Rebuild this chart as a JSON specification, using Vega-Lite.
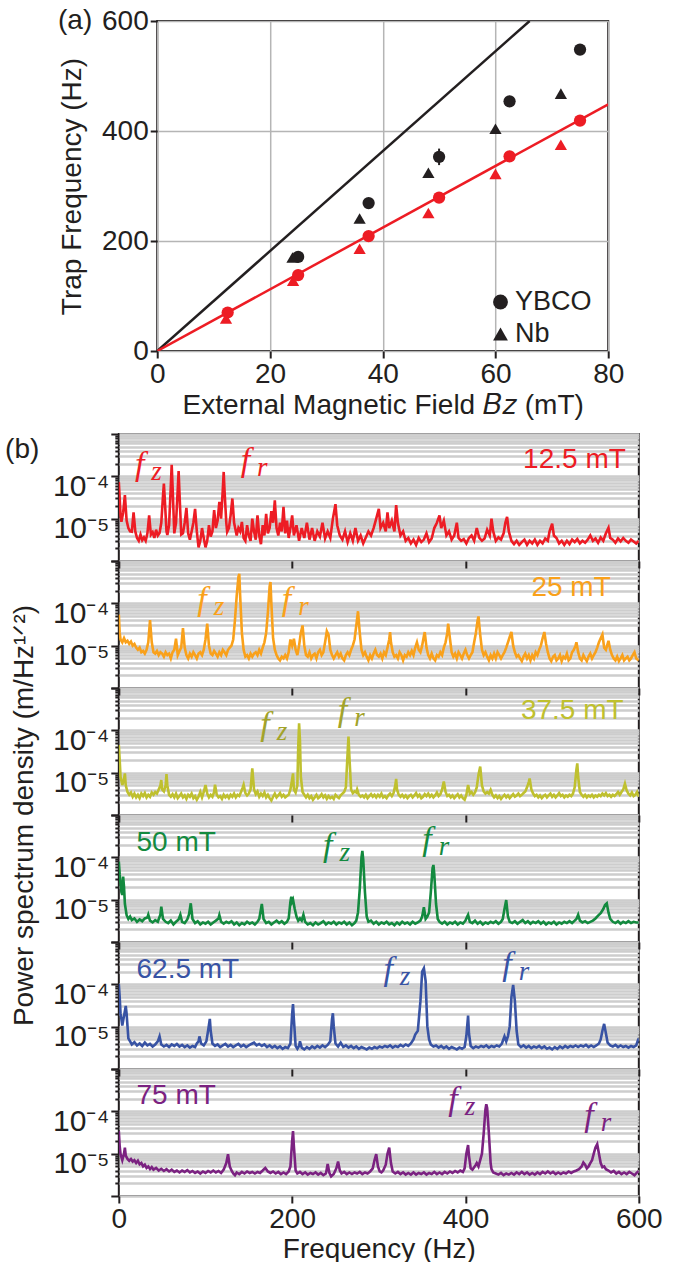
{
"$schema": "https://vega.github.io/schema/vega-lite/v6.json",
"padding": {"left": 3.5, "top": 6, "right": 0, "bottom": 0},
"config": {
 "font": "Liberation Sans",
 "view": {"stroke": "#231f20", "strokeWidth": 2},
 "axis": {"labelFontSize": 28, "titleFontSize": 28, "titleFontWeight": "normal", "labelColor": "#231f20", "titleColor": "#231f20", "domainColor": "#231f20", "domainWidth": 2, "tickColor": "#231f20", "tickWidth": 2, "labelFlush": false, "labelOverlap": false},
 "text": {"font": "Liberation Sans"}
},
"datasets": {
"s1": [{"f":0,"p":73},{"f":1,"p":30},{"f":2,"p":12},{"f":3,"p":8.4},{"f":5,"p":14},{"f":7,"p":36},{"f":9,"p":9},{"f":11,"p":6},{"f":13,"p":5},{"f":15,"p":4.9},{"f":17,"p":14},{"f":19,"p":5},{"f":21,"p":3.5},{"f":23,"p":3.0},{"f":25,"p":4.2},{"f":27,"p":3.1},{"f":29,"p":3.6},{"f":31,"p":3.0},{"f":33,"p":4.5},{"f":35,"p":12},{"f":37,"p":4.2},{"f":39,"p":4.8},{"f":41,"p":3.5},{"f":43,"p":5.5},{"f":45,"p":4.0},{"f":47,"p":4.6},{"f":49,"p":8},{"f":51,"p":35},{"f":52,"p":67},{"f":53,"p":30},{"f":55,"p":5},{"f":56,"p":4.1},{"f":58,"p":7},{"f":60,"p":60},{"f":61,"p":186},{"f":62,"p":60},{"f":64,"p":4.5},{"f":66,"p":8},{"f":68,"p":50},{"f":69,"p":134},{"f":70,"p":40},{"f":72,"p":4.2},{"f":74,"p":4.5},{"f":76,"p":8},{"f":78,"p":18},{"f":80,"p":4.5},{"f":82,"p":3.2},{"f":84,"p":5},{"f":86,"p":8},{"f":88,"p":17},{"f":90,"p":5},{"f":92,"p":2.1},{"f":94,"p":3},{"f":96,"p":6},{"f":98,"p":3.5},{"f":100,"p":2.1},{"f":102,"p":3},{"f":104,"p":7},{"f":106,"p":3.8},{"f":108,"p":5},{"f":110,"p":16},{"f":112,"p":6},{"f":114,"p":9},{"f":116,"p":25},{"f":118,"p":10},{"f":120,"p":50},{"f":121,"p":127},{"f":122,"p":45},{"f":124,"p":8},{"f":125,"p":4.9},{"f":127,"p":6},{"f":129,"p":12},{"f":131,"p":30},{"f":133,"p":8},{"f":136,"p":4},{"f":138,"p":6},{"f":140,"p":5},{"f":142,"p":8.4},{"f":144,"p":3.5},{"f":146,"p":3},{"f":148,"p":7},{"f":150,"p":4},{"f":152,"p":3},{"f":154,"p":10},{"f":156,"p":5},{"f":158,"p":3.2},{"f":160,"p":12},{"f":162,"p":4},{"f":164,"p":2.5},{"f":166,"p":7},{"f":168,"p":4},{"f":170,"p":13},{"f":172,"p":4.5},{"f":174,"p":6},{"f":176,"p":15},{"f":178,"p":8},{"f":180,"p":27},{"f":182,"p":6},{"f":184,"p":4},{"f":186,"p":8},{"f":188,"p":5},{"f":190,"p":19},{"f":192,"p":4.5},{"f":194,"p":9},{"f":196,"p":3.5},{"f":198,"p":6},{"f":200,"p":12},{"f":202,"p":4},{"f":205,"p":7},{"f":208,"p":3},{"f":211,"p":6},{"f":214,"p":3.5},{"f":217,"p":8},{"f":220,"p":3.2},{"f":223,"p":6},{"f":226,"p":3},{"f":229,"p":5},{"f":232,"p":3.8},{"f":235,"p":8},{"f":238,"p":3.4},{"f":241,"p":5},{"f":244,"p":3.5},{"f":247,"p":10},{"f":250,"p":22},{"f":252,"p":7},{"f":255,"p":4},{"f":258,"p":3.2},{"f":261,"p":5},{"f":264,"p":2.8},{"f":267,"p":4.5},{"f":270,"p":3},{"f":273,"p":6},{"f":276,"p":3},{"f":279,"p":4},{"f":282,"p":2.6},{"f":285,"p":3.6},{"f":288,"p":5},{"f":291,"p":4},{"f":294,"p":6},{"f":297,"p":10},{"f":300,"p":17},{"f":302,"p":6},{"f":305,"p":8},{"f":308,"p":5},{"f":310,"p":14},{"f":312,"p":6},{"f":315,"p":9},{"f":318,"p":5},{"f":320,"p":21},{"f":322,"p":8},{"f":325,"p":4},{"f":328,"p":5},{"f":331,"p":3},{"f":334,"p":3.5},{"f":337,"p":2.6},{"f":340,"p":3.2},{"f":343,"p":2.4},{"f":346,"p":3.5},{"f":349,"p":2.8},{"f":352,"p":3.2},{"f":355,"p":4.5},{"f":358,"p":2.8},{"f":361,"p":3.4},{"f":364,"p":6},{"f":367,"p":8},{"f":370,"p":12},{"f":372,"p":6},{"f":375,"p":9},{"f":378,"p":4},{"f":381,"p":5},{"f":384,"p":3.2},{"f":387,"p":4},{"f":390,"p":8},{"f":392,"p":3.5},{"f":395,"p":3},{"f":398,"p":3.3},{"f":401,"p":2.6},{"f":404,"p":3.5},{"f":407,"p":4},{"f":410,"p":3},{"f":413,"p":6},{"f":416,"p":3.5},{"f":419,"p":3},{"f":422,"p":3.4},{"f":425,"p":5.5},{"f":428,"p":4},{"f":430,"p":10},{"f":432,"p":5},{"f":435,"p":3},{"f":438,"p":3.6},{"f":441,"p":3.2},{"f":444,"p":4.5},{"f":446,"p":8},{"f":448,"p":11},{"f":450,"p":5},{"f":453,"p":3},{"f":456,"p":2.5},{"f":459,"p":3},{"f":462,"p":2.4},{"f":465,"p":2.8},{"f":468,"p":3.2},{"f":471,"p":2.4},{"f":474,"p":3},{"f":477,"p":2.6},{"f":480,"p":3.2},{"f":483,"p":2.4},{"f":486,"p":3},{"f":489,"p":2.6},{"f":492,"p":3.4},{"f":495,"p":3},{"f":497,"p":5},{"f":500,"p":7.6},{"f":502,"p":4},{"f":505,"p":3.5},{"f":508,"p":2.6},{"f":511,"p":3},{"f":514,"p":2.4},{"f":517,"p":3},{"f":520,"p":2.5},{"f":523,"p":3.2},{"f":526,"p":2.8},{"f":529,"p":3.3},{"f":532,"p":2.6},{"f":535,"p":3},{"f":538,"p":2.7},{"f":541,"p":3.2},{"f":544,"p":4},{"f":547,"p":3},{"f":550,"p":3.4},{"f":553,"p":2.7},{"f":556,"p":3.6},{"f":559,"p":3},{"f":562,"p":4.5},{"f":565,"p":6.1},{"f":567,"p":3.5},{"f":570,"p":3.2},{"f":573,"p":2.7},{"f":576,"p":3.4},{"f":579,"p":2.9},{"f":582,"p":3.5},{"f":585,"p":3},{"f":588,"p":2.7},{"f":591,"p":3.2},{"f":594,"p":2.9},{"f":597,"p":2.6},{"f":600,"p":3}],
"s2": [{"f":0,"p":54},{"f":1,"p":20},{"f":2,"p":14},{"f":4,"p":12},{"f":6,"p":15},{"f":8,"p":12},{"f":10,"p":13},{"f":12,"p":11},{"f":14,"p":12.5},{"f":16,"p":10},{"f":18,"p":11},{"f":20,"p":9},{"f":22,"p":8},{"f":24,"p":9},{"f":26,"p":7},{"f":28,"p":7.5},{"f":30,"p":6.5},{"f":32,"p":8},{"f":34,"p":12},{"f":36,"p":40},{"f":38,"p":12},{"f":40,"p":7},{"f":42,"p":6.5},{"f":44,"p":7.5},{"f":46,"p":6},{"f":48,"p":7},{"f":50,"p":6.5},{"f":52,"p":5.5},{"f":54,"p":7},{"f":56,"p":6},{"f":58,"p":6.5},{"f":60,"p":5},{"f":62,"p":7},{"f":64,"p":8},{"f":66,"p":14.6},{"f":68,"p":6},{"f":70,"p":7.5},{"f":72,"p":9},{"f":74,"p":26},{"f":76,"p":9},{"f":78,"p":6},{"f":80,"p":5},{"f":82,"p":6.5},{"f":84,"p":5.5},{"f":86,"p":7},{"f":88,"p":6},{"f":90,"p":5},{"f":92,"p":6.5},{"f":94,"p":7},{"f":96,"p":6},{"f":98,"p":8},{"f":100,"p":14},{"f":102,"p":33},{"f":104,"p":10},{"f":106,"p":6.5},{"f":108,"p":6},{"f":110,"p":7.5},{"f":112,"p":6.5},{"f":114,"p":5.5},{"f":116,"p":7},{"f":118,"p":6},{"f":120,"p":8},{"f":122,"p":7},{"f":124,"p":6},{"f":126,"p":8},{"f":128,"p":9},{"f":130,"p":10},{"f":132,"p":14},{"f":134,"p":40},{"f":136,"p":150},{"f":138,"p":420},{"f":139,"p":500},{"f":140,"p":150},{"f":142,"p":20},{"f":144,"p":8},{"f":146,"p":5.5},{"f":148,"p":6},{"f":150,"p":5},{"f":152,"p":6.5},{"f":154,"p":5.5},{"f":156,"p":6.5},{"f":158,"p":7},{"f":160,"p":6},{"f":162,"p":8},{"f":164,"p":6.5},{"f":166,"p":9},{"f":168,"p":12},{"f":170,"p":20},{"f":172,"p":60},{"f":174,"p":250},{"f":175,"p":320},{"f":176,"p":100},{"f":178,"p":15},{"f":180,"p":8},{"f":182,"p":6},{"f":184,"p":5},{"f":186,"p":4.5},{"f":188,"p":5.5},{"f":190,"p":5},{"f":192,"p":6},{"f":194,"p":5},{"f":196,"p":7},{"f":198,"p":14},{"f":200,"p":10},{"f":202,"p":14.6},{"f":204,"p":8},{"f":206,"p":6},{"f":208,"p":10},{"f":210,"p":20},{"f":212,"p":30},{"f":214,"p":10},{"f":216,"p":6},{"f":218,"p":5.5},{"f":220,"p":7},{"f":222,"p":5},{"f":224,"p":6},{"f":226,"p":6.5},{"f":228,"p":5},{"f":230,"p":7},{"f":232,"p":8},{"f":234,"p":6},{"f":236,"p":7},{"f":238,"p":12},{"f":240,"p":22},{"f":242,"p":18},{"f":244,"p":8},{"f":246,"p":6},{"f":248,"p":5},{"f":250,"p":6},{"f":252,"p":7},{"f":254,"p":5.5},{"f":256,"p":6.5},{"f":258,"p":5},{"f":260,"p":4.5},{"f":262,"p":6},{"f":264,"p":7},{"f":266,"p":6},{"f":268,"p":8},{"f":270,"p":10},{"f":272,"p":14},{"f":274,"p":30},{"f":276,"p":65},{"f":278,"p":20},{"f":280,"p":8},{"f":282,"p":6},{"f":284,"p":7},{"f":286,"p":5.5},{"f":288,"p":4.5},{"f":290,"p":6},{"f":292,"p":5},{"f":294,"p":6.5},{"f":296,"p":8},{"f":298,"p":6},{"f":300,"p":5.5},{"f":302,"p":6.5},{"f":304,"p":5},{"f":306,"p":7},{"f":308,"p":6},{"f":310,"p":9},{"f":312,"p":14},{"f":313,"p":21},{"f":314,"p":12},{"f":316,"p":7},{"f":318,"p":5.5},{"f":320,"p":6},{"f":322,"p":5},{"f":324,"p":7},{"f":326,"p":6},{"f":328,"p":4.5},{"f":330,"p":6},{"f":332,"p":5.5},{"f":334,"p":7},{"f":336,"p":6},{"f":338,"p":7.5},{"f":340,"p":6},{"f":342,"p":9},{"f":344,"p":12},{"f":346,"p":8},{"f":348,"p":7},{"f":350,"p":10},{"f":352,"p":17},{"f":353,"p":21},{"f":355,"p":9},{"f":357,"p":6},{"f":359,"p":5},{"f":361,"p":6.5},{"f":363,"p":5},{"f":365,"p":4.5},{"f":367,"p":6},{"f":369,"p":5.5},{"f":371,"p":7},{"f":373,"p":6},{"f":375,"p":9},{"f":377,"p":12},{"f":379,"p":20},{"f":380,"p":33},{"f":382,"p":15},{"f":384,"p":7},{"f":386,"p":5.5},{"f":388,"p":6.5},{"f":390,"p":5},{"f":392,"p":7},{"f":394,"p":6},{"f":396,"p":5},{"f":398,"p":6.5},{"f":400,"p":8},{"f":402,"p":6},{"f":404,"p":5},{"f":406,"p":6},{"f":408,"p":7},{"f":410,"p":12},{"f":412,"p":20},{"f":414,"p":40},{"f":415,"p":49},{"f":417,"p":18},{"f":419,"p":8},{"f":421,"p":6},{"f":423,"p":7},{"f":425,"p":5.5},{"f":427,"p":4.5},{"f":429,"p":6},{"f":431,"p":5},{"f":433,"p":6.5},{"f":435,"p":5},{"f":437,"p":7},{"f":439,"p":6},{"f":441,"p":5},{"f":443,"p":6},{"f":445,"p":7},{"f":447,"p":9},{"f":449,"p":12},{"f":451,"p":16},{"f":453,"p":21},{"f":455,"p":10},{"f":457,"p":7},{"f":459,"p":5.5},{"f":461,"p":6},{"f":463,"p":5},{"f":465,"p":4.3},{"f":467,"p":5.5},{"f":469,"p":6.5},{"f":471,"p":5},{"f":473,"p":6},{"f":475,"p":4.5},{"f":477,"p":6},{"f":479,"p":5},{"f":481,"p":7},{"f":483,"p":6},{"f":485,"p":8},{"f":487,"p":10},{"f":489,"p":15},{"f":491,"p":21},{"f":493,"p":11},{"f":495,"p":7},{"f":497,"p":5},{"f":499,"p":4.3},{"f":501,"p":5.5},{"f":503,"p":6},{"f":505,"p":4.5},{"f":507,"p":5},{"f":509,"p":6},{"f":511,"p":4.3},{"f":513,"p":5.5},{"f":515,"p":5},{"f":517,"p":6.5},{"f":519,"p":4.5},{"f":521,"p":5},{"f":523,"p":7},{"f":525,"p":8},{"f":527,"p":10},{"f":528,"p":12},{"f":530,"p":7},{"f":532,"p":5},{"f":534,"p":4.5},{"f":536,"p":6},{"f":538,"p":5},{"f":540,"p":4.3},{"f":542,"p":5.5},{"f":544,"p":6.5},{"f":546,"p":5},{"f":548,"p":6},{"f":550,"p":7},{"f":552,"p":9},{"f":554,"p":12},{"f":556,"p":15},{"f":558,"p":18.5},{"f":560,"p":9},{"f":562,"p":8},{"f":564,"p":11},{"f":565,"p":13},{"f":567,"p":8},{"f":569,"p":6},{"f":571,"p":5},{"f":573,"p":4.5},{"f":575,"p":5.5},{"f":577,"p":4.3},{"f":579,"p":5},{"f":581,"p":6},{"f":583,"p":4.5},{"f":585,"p":5},{"f":587,"p":5.5},{"f":589,"p":4.5},{"f":591,"p":5},{"f":593,"p":6},{"f":595,"p":7},{"f":597,"p":5},{"f":600,"p":4.5}],
"s3": [{"f":0,"p":45},{"f":1,"p":20},{"f":2,"p":8},{"f":4,"p":5.1},{"f":6,"p":7},{"f":7,"p":9.6},{"f":8,"p":5},{"f":10,"p":3.5},{"f":12,"p":3},{"f":14,"p":3.4},{"f":16,"p":2.7},{"f":18,"p":3.2},{"f":20,"p":2.6},{"f":22,"p":3},{"f":24,"p":2.5},{"f":26,"p":3.2},{"f":28,"p":2.8},{"f":30,"p":3.3},{"f":32,"p":2.6},{"f":34,"p":3},{"f":36,"p":2.7},{"f":38,"p":3.4},{"f":40,"p":3.0},{"f":42,"p":3.5},{"f":44,"p":3.2},{"f":46,"p":4},{"f":48,"p":5},{"f":49,"p":6.7},{"f":50,"p":4},{"f":52,"p":3.6},{"f":54,"p":5},{"f":55,"p":9.2},{"f":56,"p":5},{"f":58,"p":3},{"f":60,"p":2.7},{"f":62,"p":3.1},{"f":64,"p":2.6},{"f":66,"p":3.2},{"f":68,"p":2.5},{"f":70,"p":2.8},{"f":72,"p":3.2},{"f":74,"p":2.6},{"f":76,"p":2.9},{"f":78,"p":2.4},{"f":80,"p":3},{"f":82,"p":2.7},{"f":84,"p":3.2},{"f":86,"p":2.5},{"f":88,"p":2.8},{"f":90,"p":2.3},{"f":92,"p":2.7},{"f":94,"p":3.5},{"f":96,"p":2.6},{"f":98,"p":3.5},{"f":100,"p":5.1},{"f":102,"p":3.2},{"f":104,"p":2.6},{"f":106,"p":3},{"f":108,"p":2.7},{"f":110,"p":3.5},{"f":111,"p":5.2},{"f":113,"p":3},{"f":115,"p":2.6},{"f":117,"p":2.8},{"f":119,"p":2.4},{"f":121,"p":3},{"f":123,"p":2.6},{"f":125,"p":2.9},{"f":127,"p":2.5},{"f":129,"p":3},{"f":131,"p":2.7},{"f":133,"p":3.2},{"f":135,"p":2.6},{"f":137,"p":3},{"f":139,"p":2.8},{"f":141,"p":3.5},{"f":143,"p":4.5},{"f":144,"p":5.2},{"f":146,"p":3.3},{"f":148,"p":2.9},{"f":150,"p":3.2},{"f":152,"p":4},{"f":154,"p":12.7},{"f":156,"p":4},{"f":158,"p":3.1},{"f":160,"p":3.6},{"f":162,"p":2.7},{"f":164,"p":3.2},{"f":166,"p":2.8},{"f":168,"p":3.4},{"f":170,"p":2.6},{"f":172,"p":3},{"f":174,"p":2.5},{"f":176,"p":2.2},{"f":178,"p":2.7},{"f":180,"p":3.2},{"f":182,"p":2.6},{"f":184,"p":2.9},{"f":186,"p":3.3},{"f":188,"p":2.7},{"f":190,"p":3},{"f":192,"p":2.6},{"f":194,"p":2.8},{"f":196,"p":3},{"f":198,"p":4},{"f":200,"p":7},{"f":201,"p":9.6},{"f":202,"p":4},{"f":204,"p":3.4},{"f":206,"p":5},{"f":207,"p":40},{"f":208,"p":147},{"f":209,"p":60},{"f":210,"p":8},{"f":212,"p":3.5},{"f":214,"p":3},{"f":216,"p":2.6},{"f":218,"p":3},{"f":220,"p":2.5},{"f":222,"p":2.8},{"f":224,"p":2.3},{"f":226,"p":2.6},{"f":228,"p":3},{"f":230,"p":2.5},{"f":232,"p":2.7},{"f":234,"p":3.1},{"f":236,"p":2.6},{"f":238,"p":2.9},{"f":240,"p":2.4},{"f":242,"p":2.8},{"f":244,"p":2.5},{"f":246,"p":2.7},{"f":248,"p":2.4},{"f":250,"p":3},{"f":252,"p":2.7},{"f":254,"p":2.5},{"f":256,"p":2.9},{"f":258,"p":3.2},{"f":260,"p":3.5},{"f":262,"p":4.5},{"f":264,"p":30},{"f":265,"p":71},{"f":266,"p":25},{"f":268,"p":4},{"f":270,"p":3.3},{"f":272,"p":3.6},{"f":274,"p":3.4},{"f":275,"p":4},{"f":277,"p":3},{"f":279,"p":2.7},{"f":281,"p":2.9},{"f":283,"p":2.6},{"f":285,"p":3},{"f":287,"p":2.5},{"f":289,"p":2.8},{"f":291,"p":3.1},{"f":293,"p":2.7},{"f":295,"p":3},{"f":297,"p":2.6},{"f":299,"p":3},{"f":301,"p":2.7},{"f":303,"p":3.2},{"f":305,"p":2.6},{"f":307,"p":2.8},{"f":309,"p":2.5},{"f":311,"p":2.9},{"f":313,"p":3.2},{"f":315,"p":2.8},{"f":317,"p":3.3},{"f":319,"p":5},{"f":320,"p":7.1},{"f":321,"p":4},{"f":323,"p":3},{"f":325,"p":2.7},{"f":327,"p":3},{"f":329,"p":2.6},{"f":331,"p":2.9},{"f":333,"p":2.5},{"f":335,"p":2.8},{"f":337,"p":3},{"f":339,"p":2.6},{"f":341,"p":2.9},{"f":343,"p":3.3},{"f":345,"p":2.7},{"f":347,"p":3},{"f":349,"p":2.5},{"f":351,"p":2.7},{"f":353,"p":3.1},{"f":355,"p":2.8},{"f":357,"p":3.2},{"f":359,"p":2.7},{"f":361,"p":3},{"f":363,"p":2.6},{"f":365,"p":2.9},{"f":367,"p":3.4},{"f":369,"p":2.8},{"f":371,"p":3.1},{"f":373,"p":4},{"f":375,"p":6.2},{"f":377,"p":3.5},{"f":379,"p":2.8},{"f":381,"p":3},{"f":383,"p":2.6},{"f":385,"p":2.9},{"f":387,"p":2.5},{"f":389,"p":2.8},{"f":391,"p":3.1},{"f":393,"p":2.6},{"f":395,"p":2.9},{"f":397,"p":2.5},{"f":399,"p":2.3},{"f":401,"p":3},{"f":403,"p":5.1},{"f":405,"p":3.2},{"f":407,"p":3.5},{"f":409,"p":3},{"f":411,"p":3.4},{"f":413,"p":4.5},{"f":415,"p":9},{"f":417,"p":13.9},{"f":419,"p":5},{"f":421,"p":3.6},{"f":423,"p":3.2},{"f":425,"p":3.5},{"f":427,"p":3.2},{"f":429,"p":3.9},{"f":431,"p":3},{"f":433,"p":2.6},{"f":435,"p":2.9},{"f":437,"p":2.5},{"f":439,"p":2.8},{"f":441,"p":2.4},{"f":443,"p":2.7},{"f":445,"p":3},{"f":447,"p":2.6},{"f":449,"p":2.9},{"f":451,"p":2.5},{"f":453,"p":2.8},{"f":455,"p":3.1},{"f":457,"p":2.7},{"f":459,"p":2.9},{"f":461,"p":3.2},{"f":463,"p":2.8},{"f":465,"p":3},{"f":467,"p":3.3},{"f":469,"p":3.6},{"f":471,"p":4.5},{"f":473,"p":6},{"f":474,"p":7.3},{"f":476,"p":4},{"f":478,"p":3.2},{"f":480,"p":2.8},{"f":482,"p":3},{"f":484,"p":2.6},{"f":486,"p":2.9},{"f":488,"p":2.5},{"f":490,"p":2.8},{"f":492,"p":3},{"f":494,"p":2.6},{"f":496,"p":2.9},{"f":498,"p":3.2},{"f":500,"p":2.7},{"f":502,"p":3},{"f":504,"p":2.6},{"f":506,"p":2.9},{"f":508,"p":3.3},{"f":510,"p":2.8},{"f":512,"p":3},{"f":514,"p":2.6},{"f":516,"p":2.9},{"f":518,"p":2.7},{"f":520,"p":3},{"f":522,"p":2.8},{"f":524,"p":3.2},{"f":526,"p":4.5},{"f":528,"p":12},{"f":529,"p":16.6},{"f":530,"p":8},{"f":532,"p":3.5},{"f":534,"p":3},{"f":536,"p":2.7},{"f":538,"p":3},{"f":540,"p":2.6},{"f":542,"p":2.9},{"f":544,"p":2.7},{"f":546,"p":3},{"f":548,"p":2.6},{"f":550,"p":2.9},{"f":552,"p":2.7},{"f":554,"p":3},{"f":556,"p":2.8},{"f":558,"p":3.2},{"f":560,"p":2.9},{"f":562,"p":3.3},{"f":564,"p":2.8},{"f":566,"p":3},{"f":568,"p":2.7},{"f":570,"p":3},{"f":572,"p":2.8},{"f":574,"p":3.1},{"f":576,"p":3.5},{"f":578,"p":3},{"f":580,"p":3.5},{"f":582,"p":4},{"f":584,"p":5.5},{"f":586,"p":3.8},{"f":588,"p":3.2},{"f":590,"p":2.9},{"f":592,"p":3.4},{"f":594,"p":2.8},{"f":596,"p":3},{"f":598,"p":3.5},{"f":600,"p":2.7}],
"s4": [{"f":0,"p":79},{"f":1,"p":40},{"f":2,"p":25},{"f":3,"p":15},{"f":4,"p":12.9},{"f":5,"p":35},{"f":6,"p":20},{"f":7,"p":8},{"f":9,"p":4.3},{"f":11,"p":3.5},{"f":13,"p":4},{"f":15,"p":3.3},{"f":18,"p":3.6},{"f":21,"p":3},{"f":24,"p":3.4},{"f":27,"p":3.1},{"f":30,"p":3.6},{"f":33,"p":3.8},{"f":34,"p":4.4},{"f":36,"p":3.2},{"f":39,"p":2.9},{"f":42,"p":3.3},{"f":45,"p":3},{"f":48,"p":4.5},{"f":49,"p":6.8},{"f":51,"p":3.5},{"f":54,"p":3},{"f":57,"p":2.8},{"f":60,"p":3.2},{"f":63,"p":2.6},{"f":66,"p":3},{"f":69,"p":3.4},{"f":71,"p":4.4},{"f":73,"p":3},{"f":76,"p":2.8},{"f":79,"p":3.4},{"f":81,"p":4.5},{"f":83,"p":8.2},{"f":85,"p":3.5},{"f":88,"p":2.8},{"f":91,"p":3.1},{"f":94,"p":2.6},{"f":97,"p":2.9},{"f":100,"p":2.7},{"f":103,"p":3},{"f":106,"p":2.6},{"f":109,"p":2.9},{"f":112,"p":3.2},{"f":115,"p":3.6},{"f":116,"p":4.3},{"f":118,"p":3},{"f":121,"p":2.7},{"f":124,"p":3},{"f":127,"p":2.8},{"f":130,"p":3.1},{"f":133,"p":2.6},{"f":136,"p":2.9},{"f":139,"p":2.5},{"f":142,"p":2.8},{"f":145,"p":2.6},{"f":148,"p":3},{"f":151,"p":2.7},{"f":154,"p":2.9},{"f":157,"p":2.6},{"f":160,"p":3},{"f":162,"p":3.5},{"f":164,"p":6},{"f":165,"p":7.9},{"f":167,"p":3.5},{"f":170,"p":2.8},{"f":173,"p":3},{"f":176,"p":2.6},{"f":179,"p":2.9},{"f":182,"p":3.2},{"f":185,"p":2.8},{"f":188,"p":3.1},{"f":191,"p":2.7},{"f":194,"p":3},{"f":196,"p":3.6},{"f":198,"p":9},{"f":199,"p":11.8},{"f":200,"p":9},{"f":201,"p":10},{"f":203,"p":6},{"f":205,"p":4},{"f":207,"p":3.2},{"f":209,"p":3.6},{"f":211,"p":3.2},{"f":213,"p":4.4},{"f":215,"p":3},{"f":218,"p":2.6},{"f":221,"p":2.8},{"f":224,"p":2.5},{"f":227,"p":2.9},{"f":230,"p":2.6},{"f":233,"p":2.8},{"f":236,"p":3.1},{"f":239,"p":2.6},{"f":242,"p":2.9},{"f":245,"p":2.7},{"f":248,"p":3},{"f":251,"p":2.6},{"f":254,"p":2.9},{"f":257,"p":2.7},{"f":260,"p":3},{"f":263,"p":2.6},{"f":266,"p":2.9},{"f":269,"p":2.5},{"f":272,"p":2.8},{"f":274,"p":3.2},{"f":276,"p":5},{"f":278,"p":18},{"f":280,"p":100},{"f":281,"p":142},{"f":282,"p":90},{"f":284,"p":15},{"f":286,"p":4},{"f":288,"p":3},{"f":291,"p":3.2},{"f":294,"p":2.7},{"f":297,"p":3},{"f":300,"p":2.6},{"f":303,"p":2.9},{"f":306,"p":2.7},{"f":309,"p":3},{"f":312,"p":2.6},{"f":315,"p":2.8},{"f":318,"p":2.5},{"f":321,"p":2.9},{"f":324,"p":2.6},{"f":327,"p":3},{"f":330,"p":2.7},{"f":333,"p":2.9},{"f":336,"p":2.6},{"f":339,"p":3},{"f":342,"p":2.7},{"f":345,"p":2.9},{"f":348,"p":3.2},{"f":350,"p":4},{"f":352,"p":6.6},{"f":354,"p":3.5},{"f":356,"p":4},{"f":358,"p":5},{"f":360,"p":15},{"f":362,"p":55},{"f":363,"p":66},{"f":364,"p":40},{"f":366,"p":8},{"f":368,"p":3.5},{"f":370,"p":3},{"f":373,"p":2.7},{"f":376,"p":3},{"f":379,"p":2.6},{"f":382,"p":2.9},{"f":385,"p":2.7},{"f":388,"p":3},{"f":391,"p":2.6},{"f":394,"p":2.9},{"f":397,"p":2.7},{"f":400,"p":3.2},{"f":402,"p":4},{"f":403,"p":4.4},{"f":405,"p":3},{"f":408,"p":2.8},{"f":411,"p":3.2},{"f":414,"p":2.7},{"f":417,"p":3},{"f":420,"p":2.6},{"f":423,"p":2.9},{"f":426,"p":2.7},{"f":429,"p":3},{"f":432,"p":2.8},{"f":435,"p":3.1},{"f":438,"p":2.7},{"f":441,"p":3},{"f":443,"p":3.5},{"f":445,"p":6},{"f":447,"p":9.8},{"f":449,"p":4},{"f":451,"p":3},{"f":454,"p":2.8},{"f":457,"p":3.1},{"f":460,"p":2.7},{"f":463,"p":3},{"f":466,"p":3.3},{"f":469,"p":2.8},{"f":472,"p":3.1},{"f":475,"p":2.7},{"f":478,"p":3},{"f":481,"p":2.8},{"f":484,"p":3.1},{"f":487,"p":2.7},{"f":490,"p":3},{"f":493,"p":2.6},{"f":496,"p":2.9},{"f":499,"p":2.7},{"f":502,"p":3},{"f":505,"p":2.6},{"f":508,"p":2.9},{"f":511,"p":2.7},{"f":514,"p":3},{"f":517,"p":2.8},{"f":520,"p":3.1},{"f":523,"p":2.8},{"f":526,"p":3.2},{"f":528,"p":3.5},{"f":530,"p":4.4},{"f":532,"p":3.2},{"f":535,"p":2.9},{"f":538,"p":3.1},{"f":541,"p":2.8},{"f":544,"p":3},{"f":547,"p":3.2},{"f":550,"p":3.6},{"f":553,"p":4.2},{"f":556,"p":4.8},{"f":559,"p":6},{"f":561,"p":7.5},{"f":563,"p":8.2},{"f":565,"p":5},{"f":567,"p":3.5},{"f":570,"p":3},{"f":573,"p":2.8},{"f":576,"p":3.1},{"f":579,"p":2.7},{"f":582,"p":3},{"f":585,"p":2.8},{"f":588,"p":3.1},{"f":591,"p":2.8},{"f":594,"p":3},{"f":597,"p":2.9},{"f":600,"p":2.9}],
"s5": [{"f":0,"p":102},{"f":1,"p":50},{"f":2,"p":20},{"f":3,"p":15},{"f":4,"p":10.6},{"f":6,"p":18},{"f":8,"p":31},{"f":9,"p":20},{"f":11,"p":5.3},{"f":13,"p":4.5},{"f":15,"p":3.8},{"f":18,"p":4.3},{"f":21,"p":3.6},{"f":24,"p":4},{"f":27,"p":3.5},{"f":30,"p":4.2},{"f":33,"p":3.6},{"f":36,"p":3.9},{"f":39,"p":3.4},{"f":42,"p":3.8},{"f":45,"p":4.5},{"f":47,"p":5.9},{"f":49,"p":3.8},{"f":52,"p":3.4},{"f":55,"p":3.7},{"f":58,"p":3.3},{"f":61,"p":3.8},{"f":64,"p":3.5},{"f":67,"p":3.9},{"f":70,"p":3.4},{"f":73,"p":3.7},{"f":76,"p":3.3},{"f":79,"p":3.6},{"f":82,"p":3.2},{"f":85,"p":3.5},{"f":88,"p":3.3},{"f":90,"p":4},{"f":92,"p":4.5},{"f":93,"p":5.9},{"f":95,"p":4},{"f":98,"p":3.6},{"f":101,"p":4.5},{"f":103,"p":8},{"f":105,"p":15.2},{"f":106,"p":8},{"f":108,"p":4},{"f":111,"p":3.5},{"f":114,"p":3.8},{"f":117,"p":3.3},{"f":120,"p":3.6},{"f":123,"p":3.9},{"f":126,"p":3.4},{"f":129,"p":3.7},{"f":132,"p":3.3},{"f":135,"p":3.6},{"f":138,"p":3.9},{"f":141,"p":3.4},{"f":144,"p":3.7},{"f":147,"p":3.3},{"f":150,"p":3.6},{"f":153,"p":3.9},{"f":156,"p":4.2},{"f":159,"p":3.6},{"f":162,"p":3.9},{"f":165,"p":3.5},{"f":168,"p":3.8},{"f":171,"p":3.3},{"f":174,"p":3.6},{"f":177,"p":3.2},{"f":180,"p":3.5},{"f":183,"p":3.1},{"f":186,"p":3.4},{"f":189,"p":3.0},{"f":192,"p":3.3},{"f":195,"p":3.1},{"f":198,"p":4},{"f":200,"p":20},{"f":201,"p":34},{"f":202,"p":15},{"f":204,"p":3.5},{"f":206,"p":3},{"f":208,"p":3.5},{"f":209,"p":4.5},{"f":211,"p":3.2},{"f":214,"p":2.9},{"f":217,"p":3.3},{"f":220,"p":3},{"f":223,"p":3.4},{"f":226,"p":3.1},{"f":229,"p":3.5},{"f":232,"p":3.2},{"f":235,"p":3.6},{"f":238,"p":3.3},{"f":241,"p":3.7},{"f":244,"p":4.5},{"f":246,"p":15},{"f":247,"p":20.7},{"f":248,"p":10},{"f":250,"p":4},{"f":253,"p":3.4},{"f":256,"p":4.2},{"f":259,"p":3.3},{"f":262,"p":3.6},{"f":265,"p":3.2},{"f":268,"p":3.5},{"f":271,"p":3.1},{"f":274,"p":3.4},{"f":277,"p":3},{"f":280,"p":3.3},{"f":283,"p":3.1},{"f":286,"p":2.9},{"f":289,"p":3.2},{"f":292,"p":3},{"f":295,"p":3.3},{"f":298,"p":3.1},{"f":301,"p":3.4},{"f":304,"p":3.2},{"f":307,"p":3.5},{"f":310,"p":3.3},{"f":313,"p":3.6},{"f":316,"p":3.2},{"f":319,"p":3.5},{"f":322,"p":3.3},{"f":325,"p":3.7},{"f":328,"p":3.4},{"f":331,"p":3.8},{"f":334,"p":3.5},{"f":337,"p":4},{"f":340,"p":5},{"f":342,"p":6.5},{"f":345,"p":8},{"f":348,"p":40},{"f":350,"p":200},{"f":352,"p":240},{"f":354,"p":120},{"f":356,"p":10},{"f":358,"p":5},{"f":360,"p":3.8},{"f":363,"p":3.4},{"f":366,"p":3.6},{"f":369,"p":3.2},{"f":372,"p":3.5},{"f":375,"p":3.1},{"f":378,"p":3.4},{"f":381,"p":3},{"f":384,"p":3.3},{"f":387,"p":3.1},{"f":390,"p":2.9},{"f":393,"p":3.2},{"f":396,"p":3},{"f":399,"p":3.3},{"f":401,"p":6},{"f":403,"p":18.2},{"f":404,"p":7},{"f":406,"p":3.5},{"f":409,"p":3.1},{"f":412,"p":3.4},{"f":415,"p":3.2},{"f":418,"p":3.5},{"f":421,"p":3.3},{"f":424,"p":3.6},{"f":427,"p":3.2},{"f":430,"p":3.5},{"f":433,"p":3.3},{"f":436,"p":3.6},{"f":439,"p":3.4},{"f":442,"p":4},{"f":445,"p":5.9},{"f":447,"p":4.5},{"f":449,"p":6},{"f":451,"p":10},{"f":453,"p":50},{"f":455,"p":97},{"f":457,"p":40},{"f":459,"p":8},{"f":461,"p":3.8},{"f":464,"p":3.3},{"f":467,"p":3.6},{"f":470,"p":3.2},{"f":473,"p":3.5},{"f":476,"p":3.1},{"f":479,"p":3.4},{"f":482,"p":3.2},{"f":485,"p":3.5},{"f":488,"p":3.1},{"f":491,"p":3.4},{"f":494,"p":3},{"f":497,"p":3.2},{"f":500,"p":2.9},{"f":503,"p":3.3},{"f":506,"p":3},{"f":509,"p":3.4},{"f":512,"p":3.1},{"f":515,"p":3.5},{"f":518,"p":3.2},{"f":521,"p":3.5},{"f":524,"p":3.3},{"f":527,"p":3.6},{"f":530,"p":3.3},{"f":533,"p":3.6},{"f":536,"p":3.4},{"f":539,"p":3.7},{"f":542,"p":3.3},{"f":545,"p":3.6},{"f":548,"p":3.3},{"f":551,"p":3.6},{"f":554,"p":4},{"f":556,"p":5},{"f":558,"p":8},{"f":560,"p":11.6},{"f":562,"p":7},{"f":564,"p":4.2},{"f":567,"p":3.6},{"f":570,"p":3.4},{"f":573,"p":3.7},{"f":576,"p":3.3},{"f":579,"p":3.6},{"f":582,"p":3.3},{"f":585,"p":3.5},{"f":588,"p":3.2},{"f":591,"p":3.5},{"f":594,"p":3.3},{"f":597,"p":3.6},{"f":599,"p":4.8},{"f":600,"p":5.3}],
"s6": [{"f":0,"p":34},{"f":1,"p":15},{"f":2,"p":9.7},{"f":4,"p":7},{"f":6,"p":10},{"f":7,"p":13.9},{"f":8,"p":9},{"f":10,"p":7.5},{"f":12,"p":6.8},{"f":14,"p":7.5},{"f":16,"p":6.5},{"f":18,"p":7},{"f":20,"p":6},{"f":22,"p":6.8},{"f":24,"p":5.6},{"f":26,"p":6},{"f":28,"p":5},{"f":30,"p":5.5},{"f":32,"p":4.6},{"f":34,"p":5},{"f":36,"p":4.3},{"f":38,"p":4.8},{"f":40,"p":4.2},{"f":43,"p":4.6},{"f":46,"p":4},{"f":49,"p":4.4},{"f":52,"p":3.9},{"f":55,"p":4.3},{"f":58,"p":3.8},{"f":61,"p":4.2},{"f":64,"p":3.7},{"f":67,"p":4},{"f":70,"p":3.6},{"f":73,"p":4},{"f":76,"p":3.7},{"f":79,"p":4.1},{"f":82,"p":3.6},{"f":85,"p":3.9},{"f":88,"p":3.5},{"f":91,"p":3.8},{"f":94,"p":3.4},{"f":97,"p":3.8},{"f":100,"p":3.5},{"f":103,"p":3.9},{"f":106,"p":3.6},{"f":109,"p":4},{"f":112,"p":3.6},{"f":115,"p":3.9},{"f":118,"p":3.5},{"f":121,"p":4.2},{"f":124,"p":6},{"f":126,"p":9.7},{"f":128,"p":5},{"f":130,"p":4},{"f":132,"p":3.4},{"f":134,"p":3.1},{"f":136,"p":3.6},{"f":139,"p":3.3},{"f":142,"p":3.7},{"f":145,"p":3.4},{"f":148,"p":3.8},{"f":151,"p":3.5},{"f":154,"p":3.7},{"f":157,"p":3.4},{"f":160,"p":3.7},{"f":163,"p":3.5},{"f":166,"p":4},{"f":169,"p":4.6},{"f":172,"p":3.8},{"f":175,"p":3.5},{"f":178,"p":3.8},{"f":181,"p":3.4},{"f":184,"p":3.7},{"f":187,"p":3.3},{"f":190,"p":3.6},{"f":193,"p":3.3},{"f":196,"p":3.8},{"f":198,"p":5},{"f":200,"p":20},{"f":201,"p":34},{"f":202,"p":15},{"f":204,"p":4},{"f":206,"p":3.4},{"f":209,"p":3.7},{"f":212,"p":3.3},{"f":215,"p":3.6},{"f":218,"p":3.2},{"f":221,"p":3.5},{"f":224,"p":3.3},{"f":227,"p":3.6},{"f":230,"p":3.2},{"f":233,"p":3.5},{"f":236,"p":3.1},{"f":239,"p":3.4},{"f":241,"p":5.7},{"f":243,"p":3.5},{"f":245,"p":2.9},{"f":248,"p":3.3},{"f":251,"p":4.5},{"f":253,"p":6.5},{"f":255,"p":4},{"f":257,"p":3.4},{"f":260,"p":3.7},{"f":263,"p":3.3},{"f":266,"p":3.6},{"f":269,"p":3.3},{"f":272,"p":3.6},{"f":275,"p":3.4},{"f":278,"p":3.7},{"f":281,"p":3.3},{"f":284,"p":3.6},{"f":287,"p":3.4},{"f":290,"p":3.8},{"f":293,"p":4.5},{"f":295,"p":7},{"f":297,"p":9.7},{"f":299,"p":5},{"f":301,"p":3.8},{"f":303,"p":3.6},{"f":305,"p":4},{"f":308,"p":5.5},{"f":310,"p":10},{"f":312,"p":13.9},{"f":314,"p":6},{"f":316,"p":3.8},{"f":319,"p":3.4},{"f":322,"p":3.7},{"f":325,"p":3.3},{"f":328,"p":3.6},{"f":331,"p":3.2},{"f":334,"p":3.5},{"f":337,"p":3.2},{"f":340,"p":3.6},{"f":343,"p":3.2},{"f":346,"p":3.5},{"f":349,"p":3.3},{"f":352,"p":3.6},{"f":355,"p":3.2},{"f":358,"p":3.5},{"f":361,"p":3.3},{"f":364,"p":3.7},{"f":367,"p":3.3},{"f":370,"p":3.6},{"f":373,"p":3.3},{"f":376,"p":3.7},{"f":379,"p":3.4},{"f":382,"p":3.8},{"f":385,"p":3.5},{"f":388,"p":3.9},{"f":391,"p":3.6},{"f":394,"p":4},{"f":397,"p":3.7},{"f":399,"p":4.5},{"f":401,"p":10},{"f":403,"p":16},{"f":404,"p":9},{"f":406,"p":4.5},{"f":408,"p":4.2},{"f":410,"p":4.8},{"f":412,"p":5.5},{"f":413,"p":6},{"f":415,"p":5},{"f":417,"p":7},{"f":419,"p":10},{"f":421,"p":30},{"f":423,"p":110},{"f":424,"p":147},{"f":425,"p":120},{"f":427,"p":30},{"f":429,"p":6},{"f":430,"p":4.3},{"f":432,"p":3.6},{"f":435,"p":3.4},{"f":438,"p":3.2},{"f":441,"p":3.5},{"f":444,"p":3.1},{"f":447,"p":3.4},{"f":450,"p":3.2},{"f":453,"p":3.5},{"f":456,"p":3.2},{"f":459,"p":3.6},{"f":462,"p":3.3},{"f":465,"p":3.7},{"f":468,"p":3.3},{"f":471,"p":3.6},{"f":474,"p":3.2},{"f":477,"p":3.5},{"f":480,"p":3.2},{"f":483,"p":3.6},{"f":486,"p":3.3},{"f":489,"p":3.7},{"f":492,"p":3.4},{"f":495,"p":3.8},{"f":498,"p":3.4},{"f":501,"p":3.7},{"f":504,"p":3.3},{"f":507,"p":3.6},{"f":510,"p":3.3},{"f":513,"p":3.6},{"f":516,"p":3.4},{"f":519,"p":3.8},{"f":522,"p":3.5},{"f":525,"p":3.8},{"f":528,"p":4},{"f":531,"p":4.3},{"f":534,"p":5},{"f":536,"p":6.2},{"f":538,"p":5.5},{"f":540,"p":4.5},{"f":542,"p":5},{"f":544,"p":6},{"f":546,"p":7},{"f":548,"p":10},{"f":550,"p":14},{"f":552,"p":16.7},{"f":554,"p":10},{"f":556,"p":6},{"f":558,"p":4.8},{"f":560,"p":5},{"f":562,"p":4.3},{"f":565,"p":4},{"f":568,"p":3.6},{"f":571,"p":3.9},{"f":574,"p":3.4},{"f":577,"p":3.7},{"f":580,"p":3.3},{"f":583,"p":3.6},{"f":586,"p":3.3},{"f":589,"p":3.7},{"f":592,"p":3.4},{"f":595,"p":3.1},{"f":598,"p":3.6},{"f":600,"p":3.9}]
},
"spacing": 8,
"center": true,
"vconcat": [
 {
  "width": 451, "height": 330,
  "encoding": {
   "x": {"field": "B", "type": "quantitative", "scale": {"domain": [0, 80]}, "axis": {"values": [0, 20, 40, 60, 80], "grid": true, "gridColor": "#b5b5b5", "gridWidth": 1.5, "tickSize": 7, "labelPadding": 2, "domain": false, "title": "External Magnetic Field 𝐵𝑧 (mT)", "titlePadding": 3}},
   "y": {"field": "F", "type": "quantitative", "scale": {"domain": [0, 600]}, "axis": {"values": [0, 200, 400, 600], "grid": true, "gridColor": "#b5b5b5", "gridWidth": 1.5, "tickSize": 7, "labelPadding": 2, "domain": false, "title": "Trap Frequency (Hz)", "titlePadding": 15}}
  },
  "layer": [
   {"data": {"values": [{"B": 0, "F": 0, "c": "k"}, {"B": 66.06, "F": 600, "c": "k"}, {"B": 0, "F": 0, "c": "r"}, {"B": 80, "F": 448.5, "c": "r"}]},
    "mark": {"type": "line", "strokeWidth": 2.5, "clip": true},
    "encoding": {"color": {"field": "c", "type": "nominal", "scale": {"domain": ["k", "r"], "range": ["#231f20", "#ed1c24"]}, "legend": null}}},
   {"data": {"values": [{"B": 50, "lo": 338, "hi": 368}]},
    "mark": {"type": "rule", "color": "#231f20", "strokeWidth": 2},
    "encoding": {"y": {"field": "lo", "type": "quantitative"}, "y2": {"field": "hi"}}},
   {"data": {"values": [
     {"B": 25, "F": 171, "mat": "YBCO", "c": "k"}, {"B": 37.5, "F": 269, "mat": "YBCO", "c": "k"}, {"B": 50, "F": 353, "mat": "YBCO", "c": "k"}, {"B": 62.5, "F": 454, "mat": "YBCO", "c": "k"}, {"B": 75, "F": 548, "mat": "YBCO", "c": "k"},
     {"B": 24, "F": 170, "mat": "Nb", "c": "k"}, {"B": 35.9, "F": 241, "mat": "Nb", "c": "k"}, {"B": 48.1, "F": 324, "mat": "Nb", "c": "k"}, {"B": 60, "F": 404, "mat": "Nb", "c": "k"}, {"B": 71.6, "F": 468, "mat": "Nb", "c": "k"},
     {"B": 12.5, "F": 70, "mat": "YBCO", "c": "r"}, {"B": 25, "F": 138, "mat": "YBCO", "c": "r"}, {"B": 37.5, "F": 209, "mat": "YBCO", "c": "r"}, {"B": 50, "F": 279, "mat": "YBCO", "c": "r"}, {"B": 62.5, "F": 354, "mat": "YBCO", "c": "r"}, {"B": 75, "F": 419, "mat": "YBCO", "c": "r"},
     {"B": 12.2, "F": 59, "mat": "Nb", "c": "r"}, {"B": 24.1, "F": 128, "mat": "Nb", "c": "r"}, {"B": 35.9, "F": 186, "mat": "Nb", "c": "r"}, {"B": 48.1, "F": 251, "mat": "Nb", "c": "r"}, {"B": 60, "F": 322, "mat": "Nb", "c": "r"}, {"B": 71.6, "F": 375, "mat": "Nb", "c": "r"}]},
    "mark": {"type": "point", "filled": true, "size": 150, "opacity": 1},
    "encoding": {
     "color": {"field": "c", "type": "nominal", "scale": {"domain": ["k", "r"], "range": ["#231f20", "#ed1c24"]}, "legend": null},
     "shape": {"field": "mat", "type": "nominal", "scale": {"domain": ["YBCO", "Nb"], "range": ["circle", "triangle-up"]},
       "legend": {"title": null, "orient": "none", "legendX": 318.5, "legendY": 217.5, "padding": 50, "labelFontSize": 27, "labelColor": "#231f20", "symbolSize": 220, "symbolFillColor": "#231f20", "symbolStrokeColor": "#231f20", "symbolStrokeWidth": 0, "rowPadding": 4, "labelOffset": 1}}}},
   {"data": {"values": [{"B": -17.6, "F": 600, "t": "(a)"}]},
    "mark": {"type": "text", "fontSize": 28, "align": "left", "baseline": "middle", "color": "#231f20"},
    "encoding": {"text": {"field": "t"}}}
  ]
 },
 {
  "spacing": 0,
  "bounds": "flush",
  "vconcat": [
   {"width": 520, "height": 127,
    "encoding": {
     "x": {"field": "f", "type": "quantitative", "scale": {"domain": [0, 600]}, "axis": null},
     "y": {"field": "p", "type": "quantitative", "scale": {"type": "log", "domain": [1, 1000]}, "axis": {"values": [1,2,3,4,5,6,7,8,9,10,20,30,40,50,60,70,80,90,100,200,300,400,500,600,700,800,900,1000], "labelExpr": "datum.value == 100 ? '10⁻⁴' : datum.value == 10 ? '10⁻⁵' : ''", "labelFontSize": 30, "grid": true, "gridColor": "#cdcdcd", "gridWidth": 2.5, "tickSize": {"condition": {"test": "datum.value == 1 || datum.value == 10 || datum.value == 100 || datum.value == 1000", "value": 8}, "value": 4}, "labelOffset": 10, "labelPadding": 2, "title": null, "domain": false}}
    },
    "layer": [
     {"data": {"name": "s1"}, "mark": {"type": "line", "color": "#ed1c24", "strokeWidth": 2.6, "clip": true}},
     {"data": {"values": [{"f": 24, "p": 188, "t": "f", "s": "z"}, {"f": 146, "p": 227, "t": "f", "s": "r"}]},
      "layer": [
       {"mark": {"type": "text", "font": "Liberation Serif", "fontStyle": "italic", "fontSize": 34, "color": "#ed1c24"}, "encoding": {"text": {"field": "t"}}},
       {"mark": {"type": "text", "font": "Liberation Serif", "fontStyle": "italic", "fontSize": 27, "dx": 17, "dy": 7, "color": "#ed1c24"}, "encoding": {"text": {"field": "s"}}}
      ]},
     {"data": {"values": [{"f": 585, "p": 247, "t": "12.5 mT"}, {"f": -91.7, "p": 420, "t": "(b)"}]},
      "mark": {"type": "text", "fontSize": 28, "align": "right", "baseline": "middle"},
      "encoding": {"text": {"field": "t"}, "color": {"condition": {"test": "datum.t == '(b)'", "value": "#231f20"}, "value": "#ed1c24"}}}
    ]},
   {"width": 520, "height": 127,
    "encoding": {
     "x": {"field": "f", "type": "quantitative", "scale": {"domain": [0, 600]}, "axis": {"orient": "top", "values": [0, 200, 400, 600], "labels": false, "title": null, "tickSize": -7, "grid": false, "domain": false, "zindex": 1}},
     "y": {"field": "p", "type": "quantitative", "scale": {"type": "log", "domain": [1, 1000]}, "axis": {"values": [1,2,3,4,5,6,7,8,9,10,20,30,40,50,60,70,80,90,100,200,300,400,500,600,700,800,900,1000], "labelExpr": "datum.value == 100 ? '10⁻⁴' : datum.value == 10 ? '10⁻⁵' : ''", "labelFontSize": 30, "grid": true, "gridColor": "#cdcdcd", "gridWidth": 2.5, "tickSize": {"condition": {"test": "datum.value == 1 || datum.value == 10 || datum.value == 100 || datum.value == 1000", "value": 8}, "value": 4}, "labelOffset": 10, "labelPadding": 2, "title": null, "domain": false}}
    },
    "layer": [
     {"data": {"name": "s2"}, "mark": {"type": "line", "color": "#f9a11b", "strokeWidth": 2.6, "clip": true}},
     {"data": {"values": [{"f": 96, "p": 122, "t": "f", "s": "z"}, {"f": 193.5, "p": 122, "t": "f", "s": "r"}]},
      "layer": [
       {"mark": {"type": "text", "font": "Liberation Serif", "fontStyle": "italic", "fontSize": 34, "color": "#f9a11b"}, "encoding": {"text": {"field": "t"}}},
       {"mark": {"type": "text", "font": "Liberation Serif", "fontStyle": "italic", "fontSize": 27, "dx": 17, "dy": 7, "color": "#f9a11b"}, "encoding": {"text": {"field": "s"}}}
      ]},
     {"data": {"values": [{"f": 567.6, "p": 230, "t": "25 mT"}]},
      "mark": {"type": "text", "fontSize": 28, "align": "right", "baseline": "middle", "color": "#f9a11b"},
      "encoding": {"text": {"field": "t"}}}
    ]},
   {"width": 520, "height": 127,
    "encoding": {
     "x": {"field": "f", "type": "quantitative", "scale": {"domain": [0, 600]}, "axis": {"orient": "top", "values": [0, 200, 400, 600], "labels": false, "title": null, "tickSize": -7, "grid": false, "domain": false, "zindex": 1}},
     "y": {"field": "p", "type": "quantitative", "scale": {"type": "log", "domain": [1, 1000]}, "axis": {"values": [1,2,3,4,5,6,7,8,9,10,20,30,40,50,60,70,80,90,100,200,300,400,500,600,700,800,900,1000], "labelExpr": "datum.value == 100 ? '10⁻⁴' : datum.value == 10 ? '10⁻⁵' : ''", "labelFontSize": 30, "grid": true, "gridColor": "#cdcdcd", "gridWidth": 2.5, "tickSize": {"condition": {"test": "datum.value == 1 || datum.value == 10 || datum.value == 100 || datum.value == 1000", "value": 8}, "value": 4}, "labelOffset": 10, "labelPadding": 2, "domain": false, "title": "Power spectrum density (m/Hz¹ᐟ²)", "titleY": 127, "titlePadding": 14}}
    },
    "layer": [
     {"data": {"name": "s3"}, "mark": {"type": "line", "color": "#bfc02f", "strokeWidth": 2.6, "clip": true}},
     {"data": {"values": [{"f": 168.6, "p": 136, "t": "f", "s": "z"}, {"f": 258, "p": 282, "t": "f", "s": "r"}]},
      "layer": [
       {"mark": {"type": "text", "font": "Liberation Serif", "fontStyle": "italic", "fontSize": 34, "color": "#a2a32a"}, "encoding": {"text": {"field": "t"}}},
       {"mark": {"type": "text", "font": "Liberation Serif", "fontStyle": "italic", "fontSize": 27, "dx": 17, "dy": 7, "color": "#a2a32a"}, "encoding": {"text": {"field": "s"}}}
      ]},
     {"data": {"values": [{"f": 582.5, "p": 282, "t": "37.5 mT"}]},
      "mark": {"type": "text", "fontSize": 28, "align": "right", "baseline": "middle", "color": "#bfc02f"},
      "encoding": {"text": {"field": "t"}}}
    ]},
   {"width": 520, "height": 127,
    "encoding": {
     "x": {"field": "f", "type": "quantitative", "scale": {"domain": [0, 600]}, "axis": {"orient": "top", "values": [0, 200, 400, 600], "labels": false, "title": null, "tickSize": -7, "grid": false, "domain": false, "zindex": 1}},
     "y": {"field": "p", "type": "quantitative", "scale": {"type": "log", "domain": [1, 1000]}, "axis": {"values": [1,2,3,4,5,6,7,8,9,10,20,30,40,50,60,70,80,90,100,200,300,400,500,600,700,800,900,1000], "labelExpr": "datum.value == 100 ? '10⁻⁴' : datum.value == 10 ? '10⁻⁵' : ''", "labelFontSize": 30, "grid": true, "gridColor": "#cdcdcd", "gridWidth": 2.5, "tickSize": {"condition": {"test": "datum.value == 1 || datum.value == 10 || datum.value == 100 || datum.value == 1000", "value": 8}, "value": 4}, "labelOffset": 10, "labelPadding": 2, "title": null, "domain": false}}
    },
    "layer": [
     {"data": {"name": "s4"}, "mark": {"type": "line", "color": "#138a3f", "strokeWidth": 2.6, "clip": true}},
     {"data": {"values": [{"f": 241, "p": 182, "t": "f", "s": "z"}, {"f": 355.6, "p": 261, "t": "f", "s": "r"}]},
      "layer": [
       {"mark": {"type": "text", "font": "Liberation Serif", "fontStyle": "italic", "fontSize": 34, "color": "#138a3f"}, "encoding": {"text": {"field": "t"}}},
       {"mark": {"type": "text", "font": "Liberation Serif", "fontStyle": "italic", "fontSize": 27, "dx": 17, "dy": 7, "color": "#138a3f"}, "encoding": {"text": {"field": "s"}}}
      ]},
     {"data": {"values": [{"f": 20.4, "p": 218, "t": "50 mT"}]},
      "mark": {"type": "text", "fontSize": 28, "align": "left", "baseline": "middle", "color": "#138a3f"},
      "encoding": {"text": {"field": "t"}}}
    ]},
   {"width": 520, "height": 127,
    "encoding": {
     "x": {"field": "f", "type": "quantitative", "scale": {"domain": [0, 600]}, "axis": {"orient": "top", "values": [0, 200, 400, 600], "labels": false, "title": null, "tickSize": -7, "grid": false, "domain": false, "zindex": 1}},
     "y": {"field": "p", "type": "quantitative", "scale": {"type": "log", "domain": [1, 1000]}, "axis": {"values": [1,2,3,4,5,6,7,8,9,10,20,30,40,50,60,70,80,90,100,200,300,400,500,600,700,800,900,1000], "labelExpr": "datum.value == 100 ? '10⁻⁴' : datum.value == 10 ? '10⁻⁵' : ''", "labelFontSize": 30, "grid": true, "gridColor": "#cdcdcd", "gridWidth": 2.5, "tickSize": {"condition": {"test": "datum.value == 1 || datum.value == 10 || datum.value == 100 || datum.value == 1000", "value": 8}, "value": 4}, "labelOffset": 10, "labelPadding": 2, "title": null, "domain": false}}
    },
    "layer": [
     {"data": {"name": "s5"}, "mark": {"type": "line", "color": "#3853a4", "strokeWidth": 2.6, "clip": true}},
     {"data": {"values": [{"f": 310.7, "p": 222, "t": "f", "s": "z"}, {"f": 447.9, "p": 291, "t": "f", "s": "r"}]},
      "layer": [
       {"mark": {"type": "text", "font": "Liberation Serif", "fontStyle": "italic", "fontSize": 34, "color": "#3853a4"}, "encoding": {"text": {"field": "t"}}},
       {"mark": {"type": "text", "font": "Liberation Serif", "fontStyle": "italic", "fontSize": 27, "dx": 17, "dy": 7, "color": "#3853a4"}, "encoding": {"text": {"field": "s"}}}
      ]},
     {"data": {"values": [{"f": 20.4, "p": 222, "t": "62.5 mT"}]},
      "mark": {"type": "text", "fontSize": 28, "align": "left", "baseline": "middle", "color": "#3853a4"},
      "encoding": {"text": {"field": "t"}}}
    ]},
   {"width": 520, "height": 127,
    "encoding": {
     "y": {"field": "p", "type": "quantitative", "scale": {"type": "log", "domain": [1, 1000]}, "axis": {"values": [1,2,3,4,5,6,7,8,9,10,20,30,40,50,60,70,80,90,100,200,300,400,500,600,700,800,900,1000], "labelExpr": "datum.value == 100 ? '10⁻⁴' : datum.value == 10 ? '10⁻⁵' : ''", "labelFontSize": 30, "grid": true, "gridColor": "#cdcdcd", "gridWidth": 2.5, "tickSize": {"condition": {"test": "datum.value == 1 || datum.value == 10 || datum.value == 100 || datum.value == 1000", "value": 8}, "value": 4}, "labelOffset": 10, "labelPadding": 2, "title": null, "domain": false}}
    },
    "resolve": {"axis": {"x": "independent"}},
    "layer": [
     {"data": {"name": "s6"}, "mark": {"type": "line", "color": "#7b2281", "strokeWidth": 2.6, "clip": true},
      "encoding": {"x": {"field": "f", "type": "quantitative", "scale": {"domain": [0, 600]}, "axis": {"orient": "bottom", "values": [0, 200, 400, 600], "labels": true, "title": "Frequency (Hz)", "tickSize": 7, "grid": false, "domain": false, "labelPadding": 2, "titlePadding": 2}}}},
     {"data": {"values": [{"f": 385.5, "p": 188, "t": "f", "s": "z"}, {"f": 542.6, "p": 79, "t": "f", "s": "r"}]},
      "encoding": {"x": {"field": "f", "type": "quantitative", "scale": {"domain": [0, 600]}, "axis": {"orient": "top", "values": [0, 200, 400, 600], "labels": false, "title": null, "tickSize": -7, "grid": false, "domain": false, "zindex": 1}}},
      "layer": [
       {"mark": {"type": "text", "font": "Liberation Serif", "fontStyle": "italic", "fontSize": 34, "color": "#7b2281"}, "encoding": {"text": {"field": "t"}}},
       {"mark": {"type": "text", "font": "Liberation Serif", "fontStyle": "italic", "fontSize": 27, "dx": 17, "dy": 7, "color": "#7b2281"}, "encoding": {"text": {"field": "s"}}}
      ]},
     {"data": {"values": [{"f": 20.4, "p": 227, "t": "75 mT"}]},
      "mark": {"type": "text", "fontSize": 28, "align": "left", "baseline": "middle", "color": "#7b2281"},
      "encoding": {"x": {"field": "f", "type": "quantitative", "scale": {"domain": [0, 600]}, "axis": null}, "text": {"field": "t"}}}
    ]}
  ]
 }
]
}
